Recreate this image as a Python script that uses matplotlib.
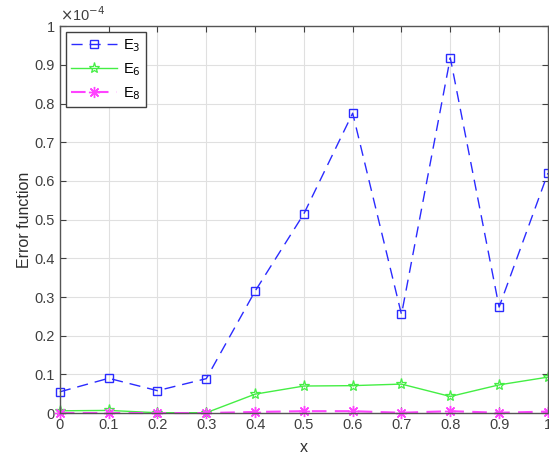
import matplotlib.pyplot as plt
from matplotlib.ticker import FuncFormatter, MultipleLocator

plt.rcParams['font.family'] = ['Liberation Sans', 'DejaVu Sans']

# values in units of 1e-4
x = [0, 0.1, 0.2, 0.3, 0.4, 0.5, 0.6, 0.7, 0.8, 0.9, 1.0]
e3 = [0.055, 0.090, 0.058, 0.089, 0.315, 0.515, 0.775, 0.255, 0.918, 0.274, 0.620]
e6 = [0.006, 0.007, 0.001, 0.001, 0.049, 0.070, 0.071, 0.075, 0.043, 0.073, 0.093]
e8 = [0.0003, 0.0003, 0.0001, 0.0002, 0.003, 0.005, 0.005, 0.001, 0.005, 0.001, 0.004]
scale = 1e-4

fig = plt.figure(figsize=(5.49, 4.58), dpi=100)
ax = fig.add_axes([0.109, 0.098, 0.889, 0.845])

ax.plot(x, [v * scale for v in e3], color='#2b2bff', ls=(0, (8, 5)), lw=1,
        marker='s', ms=6, mfc='none', mew=1, label='E$_3$', clip_on=False)
ax.plot(x, [v * scale for v in e6], color='#44ee44', ls='-', lw=1,
        marker='*', ms=8, mfc='none', mew=0.9, label='E$_6$', clip_on=False)
ax.plot(x, [v * scale for v in e8], color='#ff44ff', ls=(0, (7, 4)), lw=1.5,
        marker=(8, 2, 0), ms=8, mew=1, label='E$_8$', clip_on=False)

ax.set_xlim(0, 1)
ax.set_ylim(0, 1e-4)
ax.xaxis.set_major_locator(MultipleLocator(0.1))
ax.yaxis.set_major_locator(MultipleLocator(0.1e-4))
ax.xaxis.set_major_formatter(FuncFormatter(lambda v, p: '%g' % round(v, 2)))
ax.yaxis.set_major_formatter(FuncFormatter(lambda v, p: '%g' % round(v / scale, 2)))
ax.grid(True, color='#e0e0e0', lw=0.8)
ax.set_axisbelow(True)
ax.tick_params(direction='in', top=True, right=True, labelsize=10.5,
               colors='#404040', length=4, width=0.8)
for s in ax.spines.values():
    s.set_color('#555555')
    s.set_linewidth(1)

ax.text(0.0, 1.006, r'$\times$10$^{-4}$', transform=ax.transAxes,
        fontsize=10.5, color='#404040', va='bottom', ha='left')
ax.set_xlabel('x', fontsize=11.5, color='#303030', labelpad=6)
ax.set_ylabel('Error function', fontsize=11.5, color='#303030', labelpad=2)

leg = ax.legend(loc='upper left', numpoints=1, fontsize=10.5, handlelength=3.2,
                fancybox=False, framealpha=1, edgecolor='#404040',
                borderaxespad=0.4, labelspacing=0.5, handletextpad=0.4,
                borderpad=0.35)
leg.get_frame().set_linewidth(1)

fig.savefig('out.png', dpi=100)
